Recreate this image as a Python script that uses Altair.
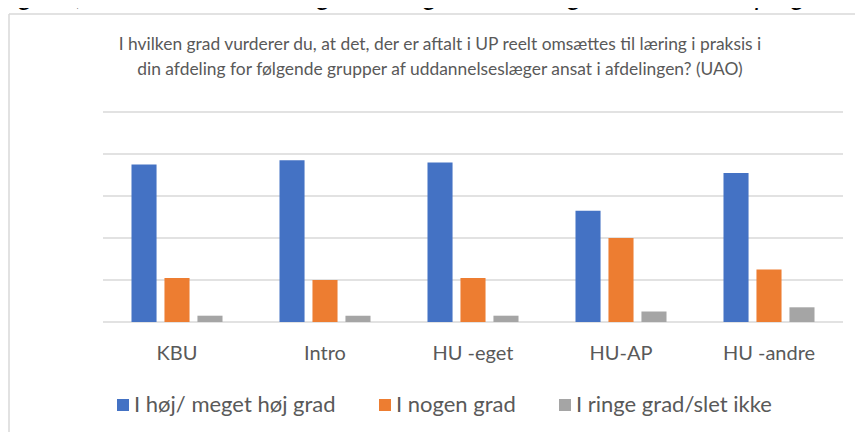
import altair as alt
import pandas as pd

categories = ["KBU", "Intro", "HU -eget", "HU-AP", "HU -andre"]
series = ["I høj/ meget høj grad", "I nogen grad", "I ringe grad/slet ikke"]
hoj = [75, 77, 76, 53, 71]
nogen = [21, 20, 21, 40, 25]
ringe = [3, 3, 3, 5, 7]
colors = ["#4472C4", "#ED7D31", "#A5A5A5"]
y_ticks = [0, 0.2, 0.4, 0.6, 0.8, 1.0]
subtitle_lines = [
    "I hvilken grad vurderer du, at det, der er aftalt i UP reelt omsættes til læring i praksis i",
    "din afdeling for følgende grupper af uddannelseslæger ansat i afdelingen? (UAO)",
]
figure_title = "Figur 6, Uddannelsesansvarlige overlægers vurdering af uddannelsesprogrammet"

FONT = "Lato"
GREY_TEXT = "#595959"

rows = []
for i, c in enumerate(categories):
    for s, vals in zip(series, [hoj, nogen, ringe]):
        rows.append({"kategori": c, "serie": s, "andel": vals[i] / 100})
df = pd.DataFrame(rows)

y_scale = alt.Scale(domain=[0, 1])

grid = alt.Chart(pd.DataFrame({"andel": y_ticks})).mark_rule(
    color="#d9d9d9", strokeWidth=1.5
).encode(
    y=alt.Y("andel:Q", scale=y_scale, axis=None),
    x=alt.value(0),
    x2=alt.value(740),
)

bars = alt.Chart(df).mark_bar().encode(
    x=alt.X(
        "kategori:N",
        sort=categories,
        scale=alt.Scale(paddingInner=0.385, paddingOuter=0.1925),
        axis=alt.Axis(
            title=None, labelAngle=0, ticks=False, domain=False, grid=False,
            labelFontSize=20, labelColor=GREY_TEXT, labelPadding=21, labelFont=FONT,
        ),
    ),
    xOffset=alt.XOffset(
        "serie:N", sort=series, scale=alt.Scale(paddingInner=0.24, paddingOuter=0)
    ),
    y=alt.Y(
        "andel:Q",
        scale=y_scale,
        axis=alt.Axis(
            title=None, values=y_ticks, format=".0%", ticks=False,
            domain=False, grid=False,
            labelFontSize=21, labelColor=GREY_TEXT, labelPadding=23, labelFont=FONT,
        ),
    ),
    color=alt.Color(
        "serie:N",
        sort=series,
        scale=alt.Scale(domain=series, range=colors),
        legend=alt.Legend(
            title=None, orient="none", legendX=9, legendY=282, direction="horizontal",
            symbolType="square", symbolSize=144, symbolStrokeWidth=0,
            labelFontSize=22, labelColor=GREY_TEXT, labelFont=FONT, labelLimit=0,
            labelOffset=0, columnPadding=38, padding=0,
        ),
    ),
)

one = alt.Data(values=[{}])

border_top = alt.Chart(one).mark_rule(color="#d9d9d9", strokeWidth=1.5).encode(
    x=alt.value(-94), x2=alt.value(752), y=alt.value(-98)
)
border_left = alt.Chart(one).mark_rule(color="#d9d9d9", strokeWidth=1.5).encode(
    x=alt.value(-94), y=alt.value(-98), y2=alt.value(320)
)

sub1 = alt.Chart(one).mark_text(
    text=subtitle_lines[0], font=FONT, fontSize=17.4, color=GREY_TEXT, align="center", baseline="middle"
).encode(x=alt.value(337), y=alt.value(-67))

sub2 = alt.Chart(one).mark_text(
    text=subtitle_lines[1], font=FONT, fontSize=17.4, color=GREY_TEXT, align="center", baseline="middle"
).encode(x=alt.value(337), y=alt.value(-42))

fig_title = alt.Chart(one).mark_text(
    text=figure_title, font=FONT, fontSize=27, fontStyle="italic", color="#000000",
    align="left", baseline="alphabetic", limit=856, ellipsis=""
).encode(x=alt.value(-104), y=alt.value(-107))

chart = alt.layer(border_top, border_left, fig_title, sub1, sub2, grid, bars).properties(
    width=740,
    height=210,
    background="white",
    autosize=alt.AutoSizeParams(type="none"),
    padding={"left": 95, "top": 104, "right": 13, "bottom": 110},
).configure_view(
    stroke="transparent", strokeWidth=0
).configure_axis(
    domain=False
)

chart.save("out.html", embed_options={"renderer": "svg", "actions": False})
